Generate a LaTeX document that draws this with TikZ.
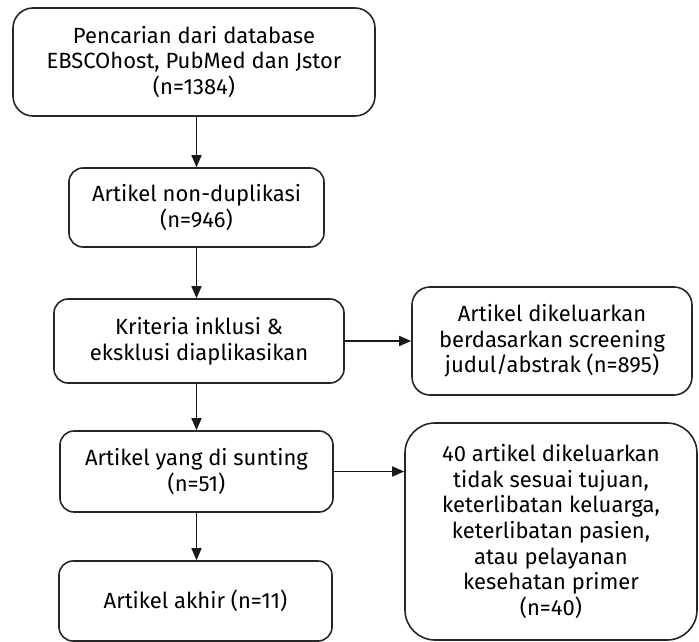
\documentclass[tikz,border=0pt]{standalone}
\usepackage{fontspec}
\setmainfont{Fira Sans}
\usetikzlibrary{arrows.meta}
\begin{document}
\begin{tikzpicture}[x=1pt,y=-1pt,
  box/.style={draw=black!85, line width=1.6pt, rounded corners=14pt, align=center,
    font=\fontsize{22}{25.6}\selectfont, inner sep=0pt, text=black},
  arr/.style={draw=black!90, line width=1.6pt, -{Triangle[length=12pt,width=10pt]}}]
\useasboundingbox (0,0) rectangle (699,642);
\node[box, rounded corners=20pt, minimum width=362pt, minimum height=108pt] (b1) at (194,62)
  {Pencarian dari database\\EBSCOhost, PubMed dan Jstor\\(n=1384)};
\node[box, minimum width=255pt, minimum height=79pt] (b2) at (196.5,207.5)
  {Artikel non-duplikasi\\(n=946)};
\node[box, minimum width=290pt, minimum height=84pt] (b3) at (199,341)
  {Kriteria inklusi \&\\eksklusi diaplikasikan};
\node[box, rounded corners=18pt, minimum width=280pt, minimum height=108pt] (r1) at (552,341)
  {Artikel dikeluarkan\\berdasarkan screening\\judul/abstrak (n=895)};
\node[box, minimum width=273pt, minimum height=81pt] (b4) at (196.5,471.5)
  {Artikel yang di sunting\\(n=51)};
\node[box, minimum width=273pt, minimum height=80pt] (b5) at (195.5,601)
  {Artikel akhir (n=11)};
\node[box, rounded corners=30pt, minimum width=292pt, minimum height=217pt] (r2) at (551,531.5)
  {40 artikel dikeluarkan\\tidak sesuai tujuan,\\keterlibatan keluarga,\\keterlibatan pasien,\\atau pelayanan\\kesehatan primer\\(n=40)};
\draw[arr] (b2.north |- b1.south) -- (b2.north);
\draw[arr] (b2.south) -- (b2.south |- b3.north);
\draw[arr] (b3.east) -- (r1.west);
\draw[arr] (b4.north |- b3.south) -- (b4.north);
\draw[arr] (b4.east) -- (b4.east -| r2.west);
\draw[arr] (b4.south) -- (b4.south |- b5.north);
\end{tikzpicture}
\end{document}
